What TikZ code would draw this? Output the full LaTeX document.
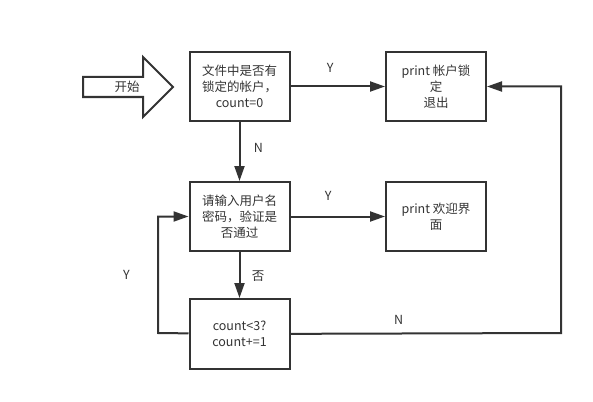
\documentclass[tikz,border=0pt]{standalone}
\usepackage{fontspec}
\setmainfont{Noto Sans CJK SC}
\usepackage{tikz}
\usetikzlibrary{arrows.meta}
\definecolor{ink}{RGB}{51,51,51}

\begin{document}
\begin{tikzpicture}[x=1pt,y=-1pt,font=\fontsize{12.5}{16}\selectfont,text=ink]
    \useasboundingbox (0,0) rectangle (593,401);

    % start arrow
    \draw[draw=ink,line width=2pt,line join=miter]
      (83,77) -- (143,77) -- (143,57) -- (173,87) -- (143,117) -- (143,97) -- (83,97) -- cycle;
    \node (start) at (127,87) {开始};

    \begin{scope}[every node/.style={rectangle,draw=ink,line width=2pt,
        minimum width=100pt,minimum height=69pt,align=center,inner sep=2pt}]
      \node (scan) at (239.5,86.5) {文件中是否有\\锁定的帐户，\\count=0};
      \node (lock) at (436,86.5) {print 帐户锁\\定\\退出};
      \node (ask) at (239.5,216.5) {请输入用户名\\密码，验证是\\否通过};
      \node (welcome) at (436,216.5) {print 欢迎界\\面};
      \node[minimum height=70pt] (cnt) at (239.5,334) {count<3?\\count+=1};
    \end{scope}

    \coordinate (lc) at (158,333);
    \coordinate (rc) at (561,333);

    \begin{scope}[>={Triangle[length=15pt,width=10pt]},
        every edge/.style={draw=ink,line width=2pt}]
      \path [->] (scan) edge node[pos=0.42,above=10pt] {Y} (lock);
      \path [->] (scan) edge node[pos=0.44,right=10pt] {N} (ask);
      \path [->] (ask) edge node[pos=0.4,above=12pt] {Y} (welcome);
      \path [->] (ask) edge node[pos=0.52,right=8pt] {否} (cnt);
      \draw [->,draw=ink,line width=2pt] (cnt) -- (lc) |- node[pos=0.25,left=24pt] {Y} (ask);
      \draw [->,draw=ink,line width=2pt] (cnt) -- node[pos=0.4,above=5pt] {N} (rc) |- (lock);
    \end{scope}
\end{tikzpicture}
\end{document}
